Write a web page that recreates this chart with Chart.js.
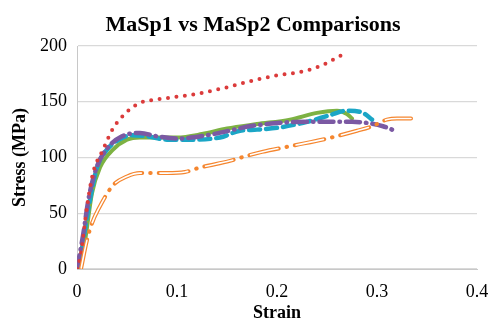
<!DOCTYPE html>
<html>
<head>
<meta charset="utf-8">
<script src="https://cdn.jsdelivr.net/npm/chart.js@4"></script>
<style>
html,body{margin:0;padding:0;background:#fff;}
#wrap{width:489px;height:320px;position:relative;}
</style>
</head>
<body>
<div id="wrap"><canvas id="c" width="489" height="320"></canvas></div>
<script>
const chartTitle = "MaSp1 vs MaSp2 Comparisons";
const xTitle = "Strain";
const yTitle = "Stress (MPa)";
const xTickLabels = ["0", "0.1", "0.2", "0.3", "0.4"];
const yTickLabels = ["0", "50", "100", "150", "200"];

const redStrain    = [0, 0.004, 0.01, 0.016, 0.026, 0.036, 0.05, 0.063, 0.08, 0.096, 0.12, 0.15, 0.176, 0.196, 0.23, 0.248, 0.265];
const redStress    = [0, 14, 56, 86, 107, 126, 141, 149, 152, 154, 157, 163, 169, 173, 178, 184, 192];

const greenStrain  = [0.003, 0.008, 0.015, 0.023, 0.036, 0.05, 0.063, 0.08, 0.1, 0.125, 0.15, 0.18, 0.213, 0.24, 0.26, 0.27, 0.275];
const greenStress  = [0, 25, 68, 91, 107, 116, 118, 118, 118, 121, 126, 130, 134, 140, 142, 139, 135];

const cyanStrain   = [0.002, 0.007, 0.013, 0.02, 0.03, 0.042, 0.055, 0.07, 0.09, 0.11, 0.143, 0.163, 0.18, 0.203, 0.23, 0.253, 0.27, 0.286, 0.295];
const cyanStress   = [0, 30, 62, 91, 107, 116, 120, 119, 116, 116, 118, 124, 125, 127, 132, 138, 142, 140, 134];

const purpleStrain = [0, 0.006, 0.012, 0.02, 0.03, 0.045, 0.063, 0.08, 0.1, 0.13, 0.18, 0.23, 0.26, 0.275, 0.29, 0.306, 0.318];
const purpleStress = [0, 30, 65, 92, 108, 119, 122, 119, 117, 120, 129, 132, 132, 132, 131, 128, 124];

const orangeStrain = [0.004, 0.01, 0.015, 0.021, 0.036, 0.05, 0.063, 0.09, 0.108, 0.123, 0.153, 0.168, 0.185, 0.218, 0.25, 0.28, 0.295, 0.31, 0.32, 0.334];
const orangeStress = [0, 26, 41, 53, 75, 83, 86, 86, 87, 91, 97, 101, 105, 111, 117, 124, 128, 134, 135, 135];

function pts(xs, ys){ return xs.map((x,i)=>({x:x, y:ys[i]})); }

const serif = "'Liberation Serif','Times New Roman',serif";

const titlePlugin = {
  id: 'customTitle',
  afterDraw(chart){
    const ctx = chart.ctx;
    ctx.save();
    ctx.font = "bold 22px " + serif;
    ctx.fillStyle = "#000";
    ctx.textAlign = "center";
    ctx.textBaseline = "alphabetic";
    ctx.fillText(chartTitle, 253, 31);
    ctx.restore();
  }
};

const common = {showLine:true, pointRadius:0, pointHoverRadius:0, fill:false, cubicInterpolationMode:'monotone', borderCapStyle:'round', borderJoinStyle:'round'};

new Chart(document.getElementById('c'), {
  type: 'scatter',
  data: {
    datasets: [
      Object.assign({}, common, {label:'orangeInner', data: pts(orangeStrain, orangeStress), borderColor:'#ffffff', borderWidth:1.6, borderDash:[28, 18.5], borderDashOffset:-1.2, order:0}),
      Object.assign({}, common, {label:'orange', data: pts(orangeStrain, orangeStress), borderColor:'#F5862F', borderWidth:4, borderDash:[30, 8, 0.5, 8], order:1}),
      Object.assign({}, common, {label:'red', data: pts(redStrain, redStress), borderColor:'#DB3B3B', borderWidth:4, borderDash:[0, 8.5], order:2}),
      Object.assign({}, common, {label:'purple', data: pts(purpleStrain, purpleStress), borderColor:'#7B59A3', borderWidth:4.5, borderDash:[14, 6, 0.5, 6], order:3}),
      Object.assign({}, common, {label:'cyan', data: pts(cyanStrain, cyanStress), borderColor:'#1BA6C6', borderWidth:4.5, borderDash:[11, 6], order:4}),
      Object.assign({}, common, {label:'green', data: pts(greenStrain, greenStress), borderColor:'#7DB243', borderWidth:4, order:5})
    ]
  },
  options: {
    responsive:false,
    animation:false,
    devicePixelRatio:1,
    layout:{padding:{top:46, left:6, right:0, bottom:0}},
    plugins:{legend:{display:false}, tooltip:{enabled:false}, title:{display:false}},
    scales:{
      x:{
        type:'linear', min:0, max:0.4,
        afterFit:(s)=>{ s.height = 51; s.paddingLeft = 0; s.paddingRight = 12; },
        ticks:{stepSize:0.1, color:'#000', font:{family:serif, size:18, lineHeight:1.2}, padding:12,
          callback:(v,i)=>xTickLabels[i]},
        grid:{display:false, drawTicks:false},
        border:{display:true, color:'#c8c8c8', width:1},
        title:{display:true, text:xTitle, color:'#000', font:{family:serif, size:18, weight:'bold', lineHeight:1}, padding:{top:0,bottom:-2}}
      },
      y:{
        type:'linear', min:0, max:200,
        afterFit:(s)=>{ s.width = 71; s.paddingTop = 0; s.paddingBottom = 0; },
        ticks:{stepSize:50, color:'#000', font:{family:serif, size:18}, padding:10,
          callback:(v,i)=>yTickLabels[i]},
        grid:{color:'#d9d9d9', lineWidth:1.3, drawTicks:false},
        border:{display:true, color:'#c8c8c8', width:1},
        title:{display:true, text:yTitle, color:'#000', font:{family:serif, size:18, weight:'bold', lineHeight:1}, padding:{top:5,bottom:11}}
      }
    }
  },
  plugins:[titlePlugin]
});
</script>
</body>
</html>
